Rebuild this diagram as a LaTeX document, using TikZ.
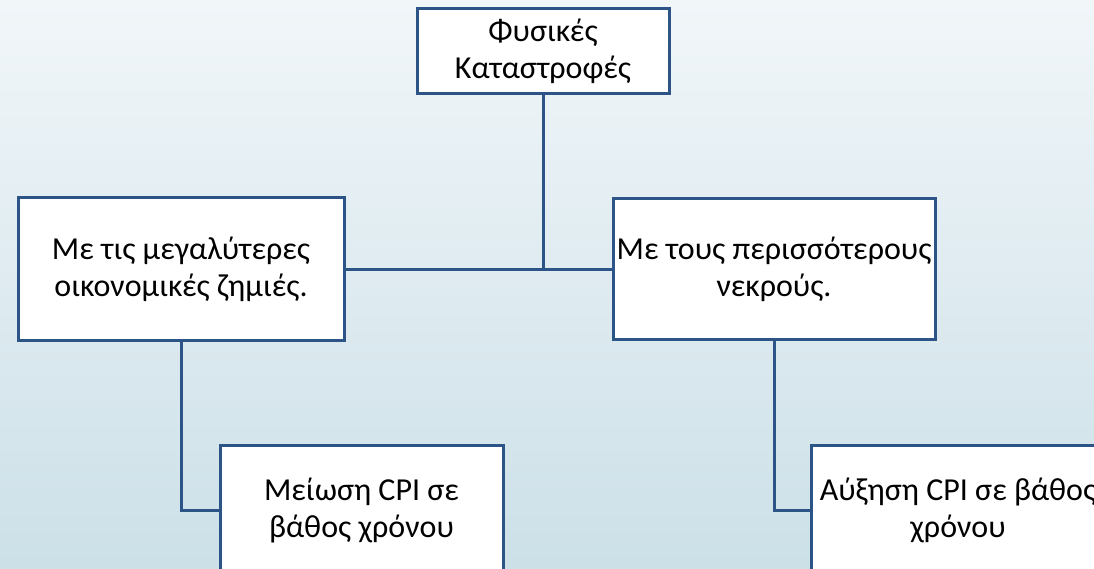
\documentclass[tikz,border=0pt]{standalone}
\usepackage{fontspec}
\setmainfont{Carlito}
\definecolor{boxline}{RGB}{44,84,134}
\definecolor{bgtop}{RGB}{241,246,249}
\definecolor{bgbot}{RGB}{204,224,232}
\begin{document}
\begin{tikzpicture}[x=1pt,y=-1pt,
  box/.style={draw=boxline, line width=3pt, fill=white, rectangle, align=center,
    inner sep=0pt, font=\fontsize{32}{37}\selectfont},
  conn/.style={draw=boxline, line width=3pt}]
\useasboundingbox (0,0) rectangle (1094,569);
\clip (0,0) rectangle (1094,569);
\shade[top color=bgtop, bottom color=bgbot] (0,0) rectangle (1094,569);
\node[box, minimum width=252pt, minimum height=85pt] (top) at (543,51.5) {Φυσικές\\Καταστροφές};
\node[box, minimum width=326pt, minimum height=142pt] (left) at (181,269) {Με τις μεγαλύτερες\\οικονομικές ζημιές.};
\node[box, minimum width=322pt, minimum height=140pt] (right) at (774,269) {Με τους περισσότερους\\νεκρούς.};
\node[box, minimum width=283pt, minimum height=130pt] (bl) at (361.5,510) {Μείωση CPI σε\\βάθος χρόνου};
\node[box, minimum width=294pt, minimum height=130pt] (br) at (958,510) {Αύξηση CPI σε βάθος\\χρόνου};
\coordinate (j) at (top.south |- left.east);
\draw[conn] (top.south) -- (j);
\draw[conn] (left.east) -- (right.west);
\draw[conn] (left.south) |- (bl.west);
\draw[conn] (right.south) |- (br.west);
\end{tikzpicture}
\end{document}
